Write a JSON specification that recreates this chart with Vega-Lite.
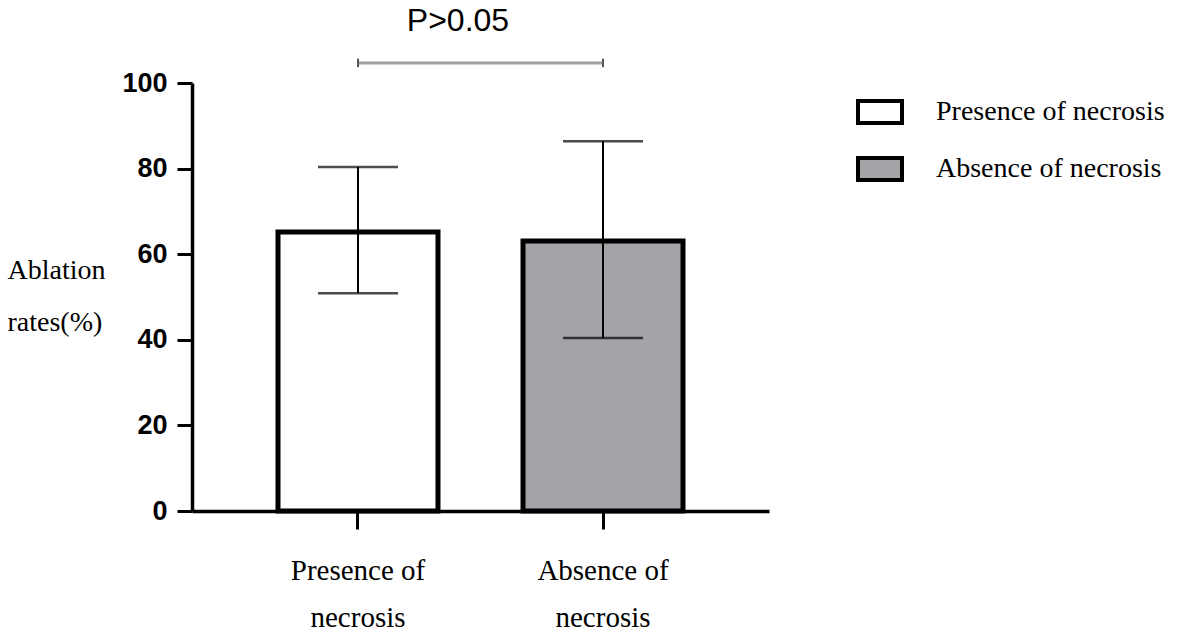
{
  "$schema": "https://vega.github.io/schema/vega-lite/v6.json",
  "autosize": "none",
  "padding": {"left": 192, "top": 83, "right": 412, "bottom": 126},
  "width": 577,
  "height": 428,
  "background": "white",
  "config": {"view": {"stroke": null}},
  "datasets": {
    "groups": [
      {"group": "Presence of necrosis", "mean": 65.2, "lo": 50.9, "hi": 80.4},
      {"group": "Absence of necrosis", "mean": 63.1, "lo": 40.4, "hi": 86.4}
    ],
    "compare": [
      {"from": "Presence of necrosis", "to": "Absence of necrosis", "y": 104.7, "label": "P>0.05", "ly": 114.5}
    ],
    "compare_ends": [
      {"pos": "Presence of necrosis", "y1": 103.7, "y2": 105.7},
      {"pos": "Absence of necrosis", "y1": 103.7, "y2": 105.7}
    ]
  },
  "layer": [
    {
      "data": {"name": "groups"},
      "mark": {"type": "bar", "stroke": "black", "strokeWidth": 5},
      "encoding": {
        "x": {
          "field": "group", "type": "nominal",
          "scale": {"domain": ["Presence of necrosis", "Absence of necrosis"], "paddingInner": 0.347, "paddingOuter": 0.351},
          "axis": {
            "title": null, "labelAngle": 0,
            "labelExpr": "datum.value == 'Presence of necrosis' ? ['Presence of', 'necrosis'] : ['Absence of', 'necrosis']",
            "labelFont": "Liberation Serif", "labelFontSize": 29, "labelColor": "black",
            "labelLineHeight": 47, "labelBaseline": "top", "labelPadding": 27,
            "tickSize": 18, "tickWidth": 3, "tickColor": "black",
            "domainColor": "black", "domainWidth": 3.5
          }
        },
        "y": {
          "field": "mean", "type": "quantitative",
          "scale": {"domain": [0, 100], "nice": false},
          "axis": {
            "values": [0, 20, 40, 60, 80, 100], "grid": false,
            "title": ["Ablation", "rates(%)"], "titleAngle": 0, "titleAlign": "left",
            "titleBaseline": "alphabetic", "titleX": -185, "titleY": 195,
            "titleFont": "Liberation Serif", "titleFontSize": 28, "titleFontWeight": "normal",
            "titleColor": "black", "titleLineHeight": 52,
            "labelFont": "Liberation Sans",
            "labelFontSize": 27, "labelFontWeight": "bold", "labelColor": "black", "labelPadding": 10,
            "tickSize": 15, "tickWidth": 3, "tickColor": "black",
            "domainColor": "black", "domainWidth": 3.5
          }
        },
        "fill": {
          "field": "group", "type": "nominal",
          "scale": {"domain": ["Presence of necrosis", "Absence of necrosis"], "range": ["#ffffff", "#a4a4a8"]},
          "legend": {
            "title": null, "orient": "none", "legendX": 664, "legendY": 5, "padding": 0,
            "symbolType": "M-1,-0.5L1,-0.5L1,0.5L-1,0.5Z", "symbolSize": 1936,
            "symbolStrokeColor": "black", "symbolStrokeWidth": 4,
            "labelFont": "Liberation Serif", "labelFontSize": 28, "labelColor": "black",
            "labelOffset": 32, "rowPadding": 14, "labelLimit": 400
          }
        }
      }
    },
    {
      "data": {"name": "groups"},
      "mark": {"type": "rule", "color": "black", "strokeWidth": 2},
      "encoding": {
        "x": {"field": "group", "type": "nominal"},
        "y": {"field": "lo", "type": "quantitative"},
        "y2": {"field": "hi"}
      }
    },
    {
      "data": {"name": "groups"},
      "mark": {"type": "tick", "color": "black", "thickness": 2.5, "size": 80},
      "encoding": {
        "x": {"field": "group", "type": "nominal"},
        "y": {"field": "lo", "type": "quantitative"}
      }
    },
    {
      "data": {"name": "groups"},
      "mark": {"type": "tick", "color": "black", "thickness": 2.5, "size": 80},
      "encoding": {
        "x": {"field": "group", "type": "nominal"},
        "y": {"field": "hi", "type": "quantitative"}
      }
    },
    {
      "data": {"name": "compare"},
      "mark": {"type": "rule", "color": "#a0a0a0", "strokeWidth": 3},
      "encoding": {
        "x": {"field": "from", "type": "nominal"},
        "x2": {"field": "to"},
        "y": {"field": "y", "type": "quantitative"}
      }
    },
    {
      "data": {"name": "compare_ends"},
      "mark": {"type": "rule", "color": "#555555", "strokeWidth": 2},
      "encoding": {
        "x": {"field": "pos", "type": "nominal"},
        "y": {"field": "y1", "type": "quantitative"},
        "y2": {"field": "y2"}
      }
    },
    {
      "data": {"name": "compare"},
      "mark": {"type": "text", "font": "Liberation Sans", "fontSize": 32, "color": "black", "align": "center", "baseline": "middle"},
      "encoding": {
        "x": {"field": "from", "type": "nominal", "bandPosition": 1.125},
        "y": {"field": "ly", "type": "quantitative"},
        "text": {"field": "label"}
      }
    }
  ]
}
